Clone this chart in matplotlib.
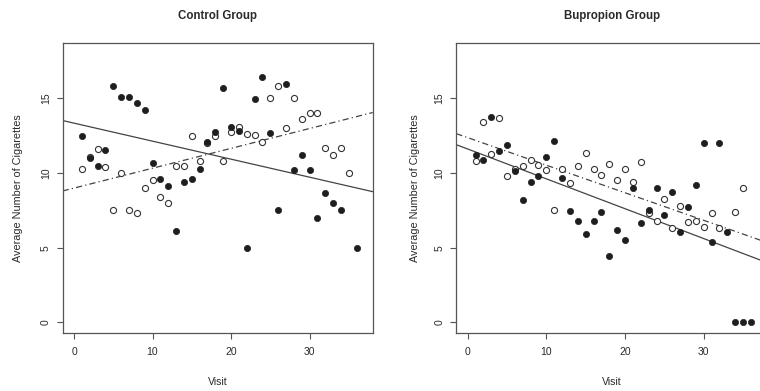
import numpy as np
import matplotlib
matplotlib.use("Agg")
import matplotlib.pyplot as plt

plt.rcParams['font.family'] = ['Liberation Sans', 'DejaVu Sans']

# ---------------- data ----------------
titles = ["Control Group", "Bupropion Group"]
x_label = "Visit"
y_label = "Average Number of Cigarettes"
x_ticks = [0, 10, 20, 30]
y_ticks = [0, 5, 10, 15]

ctrl_open_x = list(range(1, 36))
ctrl_open_y = [10.3, 11.1, 11.6, 10.4, 7.5, 10.0, 7.5, 7.3, 9.0, 9.5,
               8.4, 8.0, 10.5, 10.5, 12.5, 10.8, 12.0, 12.45, 10.8, 12.75,
               13.1, 12.6, 12.55, 12.1, 15.0, 15.8, 13.0, 15.0, 13.6, 14.0,
               14.0, 11.65, 11.2, 11.65, 10.0]
ctrl_filled_x = list(range(1, 35)) + [36]
ctrl_filled_y = [12.5, 11.0, 10.5, 11.55, 15.85, 15.1, 15.1, 14.7, 14.25, 10.7,
                 9.6, 9.1, 6.15, 9.4, 9.6, 10.3, 12.1, 12.75, 15.7, 13.1,
                 12.8, 5.0, 14.95, 16.45, 12.65, 7.5, 15.95, 10.2, 11.2, 10.2,
                 7.0, 8.65, 8.0, 7.5, 5.0]

bup_open_x = list(range(1, 33)) + [34, 35]
bup_open_y = [10.8, 13.4, 11.3, 13.7, 9.8, 10.3, 10.5, 10.9, 10.55, 10.2,
              7.5, 10.25, 9.3, 10.5, 11.35, 10.3, 9.87, 10.6, 9.5, 10.3,
              9.37, 10.77, 7.29, 6.8, 8.23, 6.32, 7.77, 6.69, 6.82, 6.39,
              7.29, 6.3, 7.42, 8.98]
bup_filled_x = list(range(1, 37))
bup_filled_y = [11.23, 10.9, 13.72, 11.5, 11.89, 10.12, 8.22, 9.4, 9.8, 11.08,
                12.16, 9.68, 7.45, 6.82, 5.89, 6.82, 7.41, 4.42, 6.2, 5.52,
                8.97, 6.62, 7.5, 9.0, 7.16, 8.73, 6.03, 7.7, 9.2, 11.98,
                5.35, 11.98, 6.02, 0.0, 0.0, 0.0]

# fitted lines (intercept, slope)
ctrl_solid = (13.34, -0.1206)
ctrl_dashdot = (8.99, 0.133)
bup_solid = (11.61, -0.200)
bup_dashdot = (12.37, -0.1846)

# ---------------- figure ----------------
W, H = 760, 391
fig = plt.figure(figsize=(W / 100, H / 100), dpi=100)

bottom = (H - 333.1) / H
height = (333.1 - 42.8) / H
ax1 = fig.add_axes([62.7 / W, bottom, 310.0 / W, height])
ax2 = fig.add_axes([456.3 / W, bottom, 310.8 / W, height])

panels = [
    (ax1, ctrl_open_x, ctrl_open_y, ctrl_filled_x, ctrl_filled_y, ctrl_solid, ctrl_dashdot, -0.144),
    (ax2, bup_open_x, bup_open_y, bup_filled_x, bup_filled_y, bup_solid, bup_dashdot, -0.133),
]

txt_col = '#2a2a2a'
for i, (ax, ox, oy, fx, fy, sl, dl, ylab_x) in enumerate(panels):
    ax.set_xlim(-1.44, 38.05)
    ax.set_ylim(-0.72, 18.72)
    ax.plot(ox, oy, 'o', ms=4.4, mfc='white', mec='#333333', mew=0.8, zorder=3)
    ax.plot(fx, fy, 'o', ms=4.5, mfc='#1e1e1e', mec='#1e1e1e', mew=0.5, zorder=3)
    ax.axline((0, sl[0]), slope=sl[1], color='#444444', lw=0.9, zorder=2)
    ax.axline((0, dl[0]), slope=dl[1], color='#444444', lw=0.9,
              linestyle=(0, (5, 2.5, 1, 2.5)), zorder=2)

    ax.set_xticks(x_ticks)
    ax.set_yticks(y_ticks)
    ax.tick_params(direction='out', length=4.5, width=0.8, color='#555555',
                   labelsize=7.5, labelcolor=txt_col)
    ax.tick_params(axis='x', pad=5.5)
    ax.tick_params(axis='y', pad=4)
    for lbl in ax.get_yticklabels():
        lbl.set_rotation(90)
        lbl.set_va('center')
    for sp in ax.spines.values():
        sp.set_color('#555555')
        sp.set_linewidth(0.9)

    ax.text(0.5, 1.092, titles[i], transform=ax.transAxes, ha='center', va='center',
            fontsize=8.3, fontweight='bold', color=txt_col)
    ax.text(0.5, -0.168, x_label, transform=ax.transAxes, ha='center', va='center',
            fontsize=7.6, color=txt_col)
    ax.text(ylab_x, 0.5, y_label, transform=ax.transAxes, ha='center', va='center',
            rotation=90, fontsize=7.8, color=txt_col)

fig.savefig("out.png", dpi=100)
